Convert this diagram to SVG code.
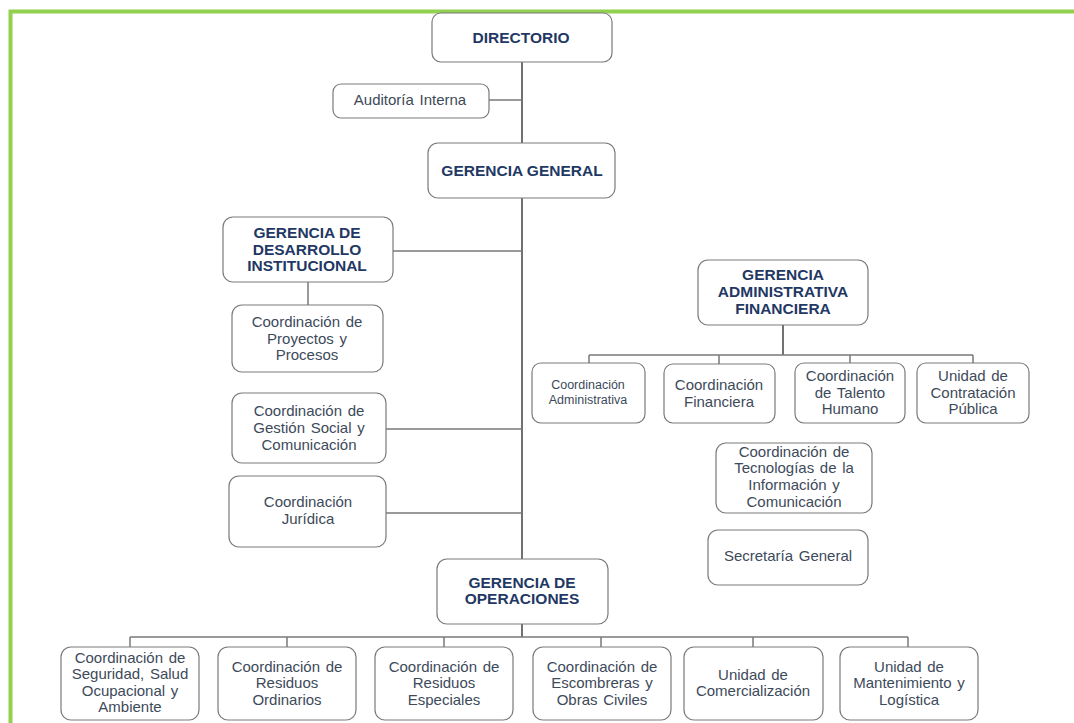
<svg xmlns="http://www.w3.org/2000/svg" width="1074" height="723" viewBox="0 0 1074 723">
<style>
.box{fill:#fff;stroke:#7a7a7a;stroke-width:1.2}
.b{font-family:"Liberation Sans",Arial,sans-serif;font-weight:bold;font-size:15.5px;fill:#1f3864;text-anchor:middle}
.t{font-family:"Liberation Sans",Arial,sans-serif;font-size:15px;fill:#3d4a5a;text-anchor:middle;word-spacing:1.5px}
.s{font-size:12.5px;word-spacing:0}
.trunk{stroke:#262626;stroke-width:1.3;fill:none}
.br{stroke:#7a7a7a;stroke-width:1.5;fill:none}
</style>
<rect width="1074" height="723" fill="#fff"/>
<path d="M10.5,723 V11.5 H1074" fill="none" stroke="#92d050" stroke-width="4"/>
<g id="connectors">
<path class="trunk" d="M522,62 V143 M522,198 V559"/>
<path class="br" d="M489,100 H522 M393,251 H522 M308,282 V305 M386,429 H522 M386,513 H522"/>
<path class="trunk" d="M783,325 V355"/>
<path class="br" d="M589,355 H973 M589,355 V363 M719,355 V364 M850,355 V363 M973,355 V363"/>
<path class="trunk" d="M522,624 V637"/>
<path class="br" d="M130,637 H908 M130,637 V647 M287,637 V647 M444,637 V647 M601,637 V647 M753,637 V647 M908,637 V647"/>
</g>
<g id="directorio"><rect class="box" x="432" y="13" width="180" height="49" rx="9"/><text class="b" x="521" y="43">DIRECTORIO</text></g>
<g id="auditoria"><rect class="box" x="333" y="84" width="156" height="34" rx="8"/><text class="t" x="410" y="105">Auditoría Interna</text></g>
<g id="gerencia-general"><rect class="box" x="428" y="143" width="187" height="55" rx="10"/><text class="b" x="522" y="176">GERENCIA GENERAL</text></g>
<g id="gerencia-desarrollo"><rect class="box" x="223" y="217" width="170" height="65" rx="10"/><text class="b" x="307"><tspan x="307" y="238">GERENCIA DE</tspan><tspan x="307" y="255">DESARROLLO</tspan><tspan x="307" y="271">INSTITUCIONAL</tspan></text></g>
<g id="proyectos"><rect class="box" x="232" y="305" width="151" height="67" rx="10"/><text class="t"><tspan x="307" y="327">Coordinación de</tspan><tspan x="307" y="344">Proyectos y</tspan><tspan x="307" y="360">Procesos</tspan></text></g>
<g id="gestion-social"><rect class="box" x="232" y="393" width="154" height="70" rx="10"/><text class="t"><tspan x="309" y="416">Coordinación de</tspan><tspan x="309" y="433">Gestión Social y</tspan><tspan x="309" y="450">Comunicación</tspan></text></g>
<g id="juridica"><rect class="box" x="229" y="476" width="157" height="71" rx="10"/><text class="t"><tspan x="308" y="507">Coordinación</tspan><tspan x="308" y="524">Jurídica</tspan></text></g>
<g id="gerencia-administrativa"><rect class="box" x="698" y="260" width="170" height="65" rx="10"/><text class="b"><tspan x="783" y="280">GERENCIA</tspan><tspan x="783" y="297">ADMINISTRATIVA</tspan><tspan x="783" y="314">FINANCIERA</tspan></text></g>
<g id="coord-administrativa"><rect class="box" x="532" y="363" width="113" height="60" rx="9"/><text class="t s"><tspan x="588" y="389">Coordinación</tspan><tspan x="588" y="404">Administrativa</tspan></text></g>
<g id="coord-financiera"><rect class="box" x="664" y="364" width="111" height="59" rx="9"/><text class="t"><tspan x="719" y="390">Coordinación</tspan><tspan x="719" y="407">Financiera</tspan></text></g>
<g id="coord-talento"><rect class="box" x="795" y="363" width="110" height="60" rx="9"/><text class="t"><tspan x="850" y="381">Coordinación</tspan><tspan x="850" y="398">de Talento</tspan><tspan x="850" y="414">Humano</tspan></text></g>
<g id="unidad-contratacion"><rect class="box" x="917" y="363" width="112" height="60" rx="9"/><text class="t"><tspan x="973" y="381">Unidad de</tspan><tspan x="973" y="398">Contratación</tspan><tspan x="973" y="414">Pública</tspan></text></g>
<g id="coord-tecnologias"><rect class="box" x="716" y="443" width="156" height="70" rx="10"/><text class="t"><tspan x="794" y="457">Coordinación de</tspan><tspan x="794" y="473">Tecnologías de la</tspan><tspan x="794" y="490">Información y</tspan><tspan x="794" y="507">Comunicación</tspan></text></g>
<g id="secretaria"><rect class="box" x="708" y="530" width="160" height="55" rx="10"/><text class="t" x="788" y="561">Secretaría General</text></g>
<g id="gerencia-operaciones"><rect class="box" x="437" y="559" width="171" height="65" rx="10"/><text class="b"><tspan x="522" y="588">GERENCIA DE</tspan><tspan x="522" y="604">OPERACIONES</tspan></text></g>
<g id="seguridad"><rect class="box" x="61" y="647" width="138" height="73" rx="10"/><text class="t"><tspan x="130" y="663">Coordinación de</tspan><tspan x="130" y="679">Seguridad, Salud</tspan><tspan x="130" y="696">Ocupacional y</tspan><tspan x="130" y="712">Ambiente</tspan></text></g>
<g id="residuos-ordinarios"><rect class="box" x="218" y="647" width="138" height="73" rx="10"/><text class="t"><tspan x="287" y="672">Coordinación de</tspan><tspan x="287" y="688">Residuos</tspan><tspan x="287" y="705">Ordinarios</tspan></text></g>
<g id="residuos-especiales"><rect class="box" x="375" y="647" width="138" height="73" rx="10"/><text class="t"><tspan x="444" y="672">Coordinación de</tspan><tspan x="444" y="688">Residuos</tspan><tspan x="444" y="705">Especiales</tspan></text></g>
<g id="escombreras"><rect class="box" x="533" y="647" width="138" height="73" rx="10"/><text class="t"><tspan x="602" y="672">Coordinación de</tspan><tspan x="602" y="688">Escombreras y</tspan><tspan x="602" y="705">Obras Civiles</tspan></text></g>
<g id="comercializacion"><rect class="box" x="684" y="647" width="139" height="73" rx="10"/><text class="t"><tspan x="753" y="680">Unidad de</tspan><tspan x="753" y="696">Comercialización</tspan></text></g>
<g id="mantenimiento"><rect class="box" x="840" y="647" width="138" height="73" rx="10"/><text class="t"><tspan x="909" y="672">Unidad de</tspan><tspan x="909" y="688">Mantenimiento y</tspan><tspan x="909" y="705">Logística</tspan></text></g>
</svg>
